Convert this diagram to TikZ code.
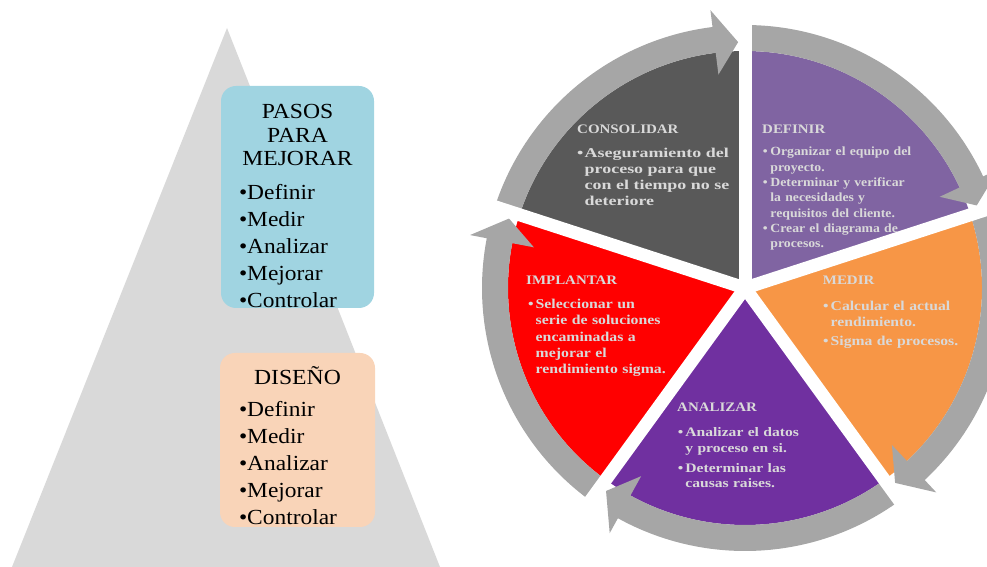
\documentclass[tikz,border=0pt]{standalone}
\usepackage{fontspec}
\setmainfont{Liberation Serif}
\usepackage{tikz}
\usetikzlibrary{positioning}

\definecolor{trigray}{HTML}{D9D9D9}
\definecolor{pasosblue}{HTML}{A0D4E1}
\definecolor{disenopeach}{HTML}{F9D4B8}
\definecolor{ringgray}{HTML}{A6A6A6}
\definecolor{consgray}{HTML}{595959}
\definecolor{defpurple}{HTML}{8064A2}
\definecolor{medorange}{HTML}{F79646}
\definecolor{analpurple}{HTML}{7030A0}
\definecolor{implred}{HTML}{FF0000}
\definecolor{segtext}{HTML}{D9D9D9}

% stretched serif, #1 = stretch
\newcommand{\wideserif}[1]{\fontspec{Liberation Serif}[FakeStretch=#1]}

\tikzstyle{tri} = [fill=trigray]
\tikzstyle{pasosbox} = [rectangle, rounded corners=15pt, minimum width=153pt, minimum height=222pt, fill=pasosblue, inner sep=0pt]
\tikzstyle{disenobox} = [rectangle, rounded corners=15pt, minimum width=155pt, minimum height=174pt, fill=disenopeach, inner sep=0pt]
\tikzstyle{boxtitle} = [align=center, inner sep=0pt, font=\wideserif{1.1}\fontsize{21.5}{23.3}\selectfont]
\tikzstyle{boxlist} = [align=left, inner sep=0pt, font=\wideserif{1.09}\fontsize{21.5}{27}\selectfont]
\tikzstyle{segtitle} = [anchor=base west, inner sep=0pt, text=segtext, font=\wideserif{1.15}\bfseries\fontsize{13}{16}\selectfont]
\tikzstyle{segbody} = [anchor=north west, inner sep=0pt, text=segtext, text width=220pt, align=left]
\tikzstyle{gap} = [draw=white, line width=13pt]

\newcommand{\segitem}[1]{\par\noindent\hangindent=7.5pt\hangafter=1\makebox[7.5pt][l]{\textbullet}#1\par}
% ring piece: #1 start angle, #2 tip angle
\newcommand{\ringarrow}[2]{\fill[ringgray] (#1:263pt) arc[start angle=#1, end angle=#2+5.5, radius=263pt] -- ({#2+5.5}:280pt) -- (#2:246pt) -- ({#2+5.5}:215pt) -- ({#2+5.5}:237pt) arc[start angle=#2+5.5, end angle=#1, radius=237pt] -- cycle;}

\begin{document}
\begin{tikzpicture}[x=1pt, y=1pt]
\useasboundingbox (0,0) rectangle (987,567);

\fill[tri] (227,539) -- (440,0) -- (12,0) -- cycle;

\node (pasos) [pasosbox] at (297.5,370) {};
\node (pasostitle) [boxtitle, below=18.5pt of pasos.north] {PASOS\\PARA\\MEJORAR};
\node (pasoslist) [boxlist, below right=98.3pt and 18pt of pasos.north west] {\textbullet Definir\\\textbullet Medir\\\textbullet Analizar\\\textbullet Mejorar\\\textbullet Controlar};

\node (diseno) [disenobox] at (297.5,127) {};
\node (disenotitle) [boxtitle, below=13.5pt of diseno.north] {DISEÑO};
\node (disenolist) [boxlist, below right=48.3pt and 19pt of diseno.north west] {\textbullet Definir\\\textbullet Medir\\\textbullet Analizar\\\textbullet Mejorar\\\textbullet Controlar};

\coordinate (c) at (745,279);
\begin{scope}[shift={(c)}]
\fill[consgray] (0,0) -- (90:237pt) arc[start angle=90, end angle=162, radius=237pt] -- cycle;
\fill[defpurple] (0,0) -- (18:237pt) arc[start angle=18, end angle=90, radius=237pt] -- cycle;
\fill[medorange] (0,0) -- (-54:237pt) arc[start angle=-54, end angle=18, radius=237pt] -- cycle;
\fill[analpurple] (0,0) -- (-126:237pt) arc[start angle=-126, end angle=-54, radius=237pt] -- cycle;
\fill[implred] (0,0) -- (162:237pt) arc[start angle=162, end angle=234, radius=237pt] -- cycle;

\ringarrow{90}{19.6}
\ringarrow{18}{-52.4}
\ringarrow{-54}{-124.4}
\ringarrow{-126}{-196.4}
\ringarrow{162}{91.6}
\end{scope}

\node (constitle) [segtitle] at (577,433.7) {CONSOLIDAR};
\node (consbody) [segbody, font=\wideserif{1.33}\bfseries\fontsize{13.5}{16}\selectfont] at (577,425.4)
  {\segitem{Aseguramiento del\newline proceso para que\newline con el tiempo no se\newline deteriore}};

\node (deftitle) [segtitle] at (762,433.7) {DEFINIR};
\node (defbody) [segbody, font=\wideserif{1.1}\bfseries\fontsize{12.5}{15.3}\selectfont] at (762.7,426.6)
  {\segitem{Organizar el equipo del\newline proyecto.}\segitem{Determinar y verificar\newline la necesidades y\newline requisitos del cliente.}\segitem{Crear el diagrama de\newline procesos.}};

\node (medtitle) [segtitle] at (822.7,282) {MEDIR};
\node (medbody) [segbody, font=\wideserif{1.16}\bfseries\fontsize{13.5}{15.7}\selectfont] at (823,274.9)
  {\setlength{\parskip}{3pt}\segitem{Calcular el actual\newline rendimiento.}\segitem{Sigma de procesos.}};

\node (analtitle) [segtitle] at (677,155.3) {ANALIZAR};
\node (analbody) [segbody, font=\wideserif{1.2}\bfseries\fontsize{13}{15.8}\selectfont] at (677.7,150.5)
  {\setlength{\parskip}{4pt}\segitem{Analizar el datos\newline y proceso en si.}\segitem{Determinar las\newline causas raises.}};

\node (impltitle) [segtitle] at (526,282) {IMPLANTAR};
\node (implbody) [segbody, font=\wideserif{1.17}\bfseries\fontsize{13.5}{16.25}\selectfont] at (528,274.9)
  {\segitem{Seleccionar un\newline serie de soluciones\newline encaminadas a\newline mejorar el\newline rendimiento sigma.}};

\begin{scope}[shift={(c)}]
\draw[gap] (0,0) -- (90:300pt);
\draw[gap] (0,0) -- (18:300pt);
\draw[gap] (0,0) -- (-54:300pt);
\draw[gap] (0,0) -- (-126:300pt);
\draw[gap] (0,0) -- (162:300pt);
\end{scope}
\end{tikzpicture}
\end{document}
